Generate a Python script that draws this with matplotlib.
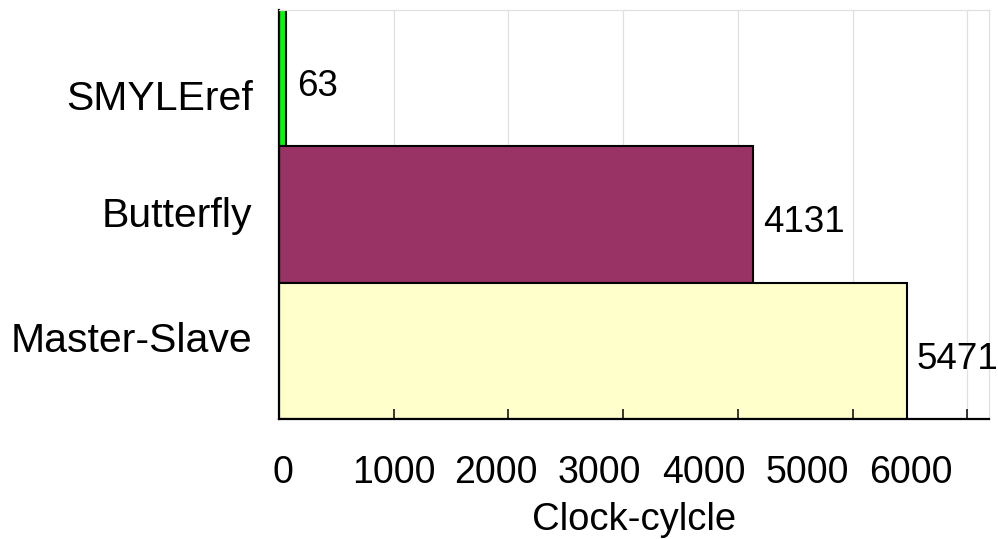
import matplotlib
matplotlib.use("Agg")
import matplotlib.pyplot as plt

plt.rcParams['font.family'] = ['Liberation Sans', 'DejaVu Sans']

categories = ["SMYLEref", "Butterfly", "Master-Slave"]
values = [63, 4131, 5471]
colors = ["#00ff00", "#993366", "#ffffcc"]
grid_ticks = [0, 1000, 2000, 3000, 4000, 5000, 6000]
tick_labels = ["0", "1000", "2000", "3000", "4000", "5000", "6000"]
xlabel = "Clock-cylcle"

# layout: the original draws tick labels slightly compressed relative to gridlines
xlabel_pos = [35, 1000, 1890, 2790, 3700, 4605, 5505]
ylabel_pos = [0.12, 0.98, 1.90]

fig = plt.figure(figsize=(9.98, 5.39), dpi=100)
ax = fig.add_axes([279/998, 1-419/539, (989-279)/998, (419-10)/539])

ypos = list(range(len(categories)))
ax.barh(ypos, values, height=1.0, color=colors, edgecolor="black", linewidth=1.5, zorder=1)

ax.set_xlim(0, 6190)
ax.set_ylim(len(categories)-0.5, -0.5)

# light gridlines behind bars
ax.vlines(grid_ticks, -0.5, len(categories)-0.5, colors='#e0e0e0', linewidth=0.9, zorder=0.3)

# inside tick marks via minor ticks (drawn above bars)
ax.set_axisbelow(False)
ax.xaxis.remove_overlapping_locs = False
ax.set_xticks(grid_ticks, minor=True)
ax.tick_params(axis='x', which='minor', direction='in', length=7.5, width=1.1, color='black')

ax.set_xticks(xlabel_pos)
ax.set_xticklabels(tick_labels, fontsize=27)
ax.tick_params(axis='x', which='major', length=0, pad=26)

ax.set_yticks(ylabel_pos)
ax.set_yticklabels(categories, fontsize=29.5)
ax.tick_params(axis='y', which='major', length=0, pad=19)
ax.set_yticks([], minor=True)

ax.set_xlabel(xlabel, fontsize=27.5, labelpad=8)

for s in ["left", "bottom"]:
    ax.spines[s].set_color("black")
    ax.spines[s].set_linewidth(1.6)
for s in ["top", "right"]:
    ax.spines[s].set_color("#e0e0e0")
    ax.spines[s].set_linewidth(0.9)

for y, v in zip(ypos, values):
    ax.annotate(str(v), xy=(v, y), xytext=(7.5, -6), textcoords="offset points",
                ha="left", va="center", fontsize=26.5, zorder=4)

fig.savefig("out.png", dpi=100)
